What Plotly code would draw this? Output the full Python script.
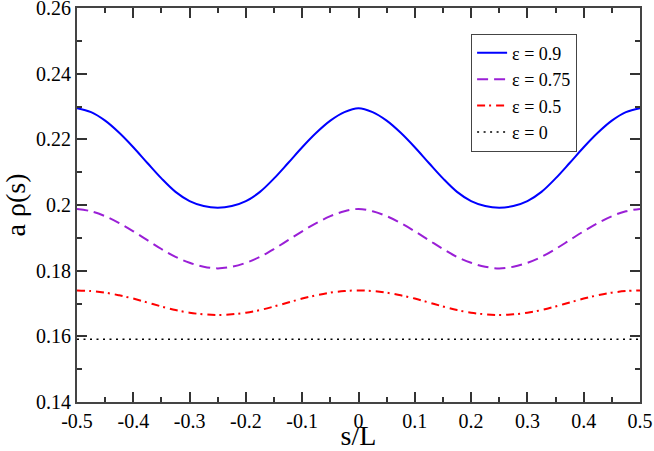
import plotly.graph_objects as go

# s/L sample positions
s = [round(-0.5 + 0.025 * k, 3) for k in range(41)]

eps_09 = [0.2295, 0.2283, 0.2257, 0.2220, 0.2176, 0.2128, 0.2081, 0.2040, 0.2012, 0.1997, 0.1992,
          0.1997, 0.2012, 0.2040, 0.2081, 0.2128, 0.2176, 0.2220, 0.2257, 0.2283, 0.2295,
          0.2283, 0.2257, 0.2220, 0.2176, 0.2128, 0.2081, 0.2040, 0.2012, 0.1997, 0.1992,
          0.1997, 0.2012, 0.2040, 0.2081, 0.2128, 0.2176, 0.2220, 0.2257, 0.2283, 0.2295]

eps_075 = [0.1988, 0.1981, 0.1966, 0.1945, 0.1920, 0.1893, 0.1866, 0.1842, 0.1824, 0.1812, 0.1807,
           0.1812, 0.1824, 0.1842, 0.1866, 0.1893, 0.1920, 0.1945, 0.1966, 0.1981, 0.1988,
           0.1981, 0.1966, 0.1945, 0.1920, 0.1893, 0.1866, 0.1842, 0.1824, 0.1812, 0.1807,
           0.1812, 0.1824, 0.1842, 0.1866, 0.1893, 0.1920, 0.1945, 0.1966, 0.1981, 0.1988]

eps_05 = [0.1740, 0.1738, 0.1733, 0.1725, 0.1715, 0.1703, 0.1691, 0.1680, 0.1672, 0.1667, 0.1665,
          0.1667, 0.1672, 0.1680, 0.1691, 0.1703, 0.1715, 0.1725, 0.1733, 0.1738, 0.1740,
          0.1738, 0.1733, 0.1725, 0.1715, 0.1703, 0.1691, 0.1680, 0.1672, 0.1667, 0.1665,
          0.1667, 0.1672, 0.1680, 0.1691, 0.1703, 0.1715, 0.1725, 0.1733, 0.1738, 0.1740]

eps_0 = [0.1591] * 41

labels = ["ε = 0.9", "ε = 0.75", "ε = 0.5", "ε = 0"]

x_tickvals = [-0.5, -0.4, -0.3, -0.2, -0.1, 0, 0.1, 0.2, 0.3, 0.4, 0.5]
x_ticktext = ["-0.5", "-0.4", "-0.3", "-0.2", "-0.1", "0", "0.1", "0.2", "0.3", "0.4", "0.5"]
y_tickvals = [0.14, 0.16, 0.18, 0.20, 0.22, 0.24, 0.26]
y_ticktext = ["0.14", "0.16", "0.18", "0.2", "0.22", "0.24", "0.26"]

FONT = "Liberation Serif"

fig = go.Figure()
fig.add_trace(go.Scatter(x=s, y=eps_09, mode="lines", name=labels[0], line_shape="spline",
                         line=dict(color="#0000ff", width=2)))
fig.add_trace(go.Scatter(x=s, y=eps_075, mode="lines", name=labels[1], line_shape="spline",
                         line=dict(color="#9a1fd6", width=2, dash="11px,6px")))
fig.add_trace(go.Scatter(x=s, y=eps_05, mode="lines", name=labels[2], line_shape="spline",
                         line=dict(color="#ff0000", width=2, dash="8px,4px,2px,5px")))
fig.add_trace(go.Scatter(x=s, y=eps_0, mode="lines", name=labels[3],
                         line=dict(color="#000000", width=1.6, dash="2px,4.5px")))

axis_common = dict(
    showline=True, linecolor="#444444", linewidth=2, mirror="allticks",
    ticks="inside", ticklen=10, tickwidth=1.5, tickcolor="#333333",
    showgrid=False, zeroline=False, automargin=False,
    ticklabeloverflow="allow",
    tickfont=dict(family=FONT, size=20, color="black"),
)

fig.update_xaxes(
    range=[-0.5, 0.5], tickvals=x_tickvals, ticktext=x_ticktext,
    minor=dict(ticks="inside", ticklen=5, tickwidth=1.5, tickcolor="#333333", dtick=0.05, tick0=0, showgrid=False),
    title=dict(text="s/L", font=dict(family=FONT, size=28, color="black"), standoff=1),
    **axis_common,
)
fig.update_yaxes(
    range=[0.14, 0.26001], tickvals=y_tickvals, ticktext=y_ticktext,
    minor=dict(ticks="inside", ticklen=5, tickwidth=1.5, tickcolor="#333333", dtick=0.01, tick0=0.14, showgrid=False),
    title=dict(text="a ρ(s)", font=dict(family=FONT, size=28, color="black"), standoff=6),
    **axis_common,
)

fig.update_layout(
    width=654, height=451,
    font=dict(family=FONT, color="black"),
    margin=dict(l=77, r=14, t=8, b=49),
    paper_bgcolor="white", plot_bgcolor="white",
    legend=dict(
        x=0.70, y=0.935, xanchor="left", yanchor="top",
        bgcolor="white", bordercolor="#444444", borderwidth=1,
        font=dict(family=FONT, size=18, color="black"),
        tracegroupgap=0, itemwidth=30,
    ),
    showlegend=True,
)

fig.write_html(
    "out.html",
    config={"displayModeBar": False},
    post_script="document.body.style.margin='0';document.body.style.overflow='hidden';",
)
